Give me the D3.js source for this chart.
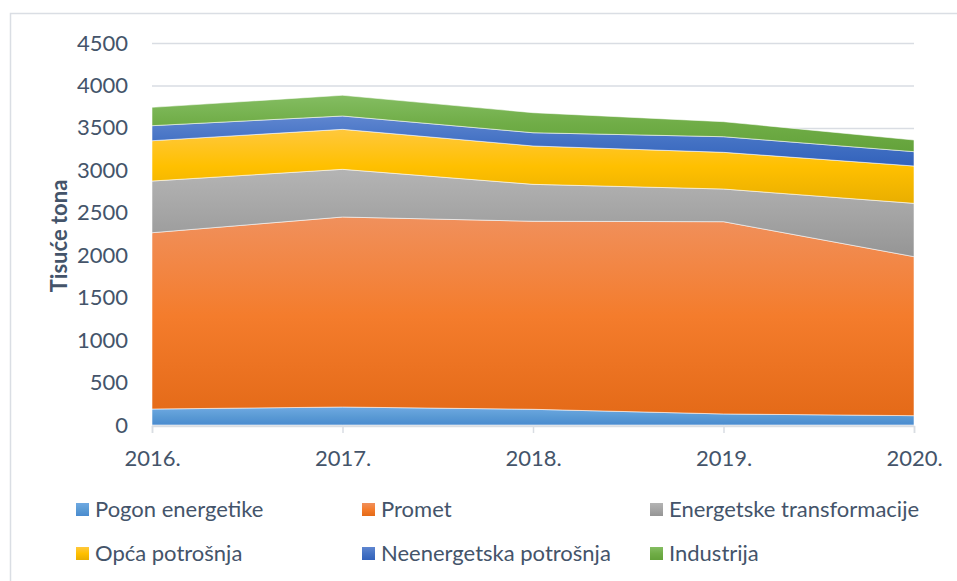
<!DOCTYPE html>
<html>
<head>
<meta charset="utf-8">
<script src="https://cdn.jsdelivr.net/npm/d3@7"></script>
<style>
  body { margin: 0; background: #fff; }
  svg text { font-family: Lato, "Open Sans", sans-serif; fill: #44546a; }
</style>
</head>
<body>
<div id="chart"></div>
<script>
// data (thousand tonnes)
var years = ["2016.", "2017.", "2018.", "2019.", "2020."];
var seriesNames = ["Pogon energetike", "Promet", "Energetske transformacije",
                   "Opća potrošnja", "Neenergetska potrošnja", "Industrija"];
var pogon      = [188, 212, 185, 130, 110];
var promet     = [2077, 2238, 2215, 2265, 1873];
var transf     = [609, 562, 435, 385, 628];
var opca       = [475, 471, 452, 432, 440];
var neenerg    = [177, 157, 156, 184, 169];
var industrija = [216, 244, 236, 177, 137];
var yTicks = [0, 500, 1000, 1500, 2000, 2500, 3000, 3500, 4000, 4500];

// light / base / dark per series (Excel-like gradient)
var colors = [
  ["#6fa9e2", "#5b9bd5", "#4a8bcf"],
  ["#f0905c", "#f47c2c", "#e46a18"],
  ["#b4b4b4", "#a5a5a5", "#959595"],
  ["#ffc83d", "#ffc000", "#e9ae00"],
  ["#5f86d0", "#4472c4", "#3262bb"],
  ["#84bd62", "#70ad47", "#63a23a"]
];

var values = [pogon, promet, transf, opca, neenerg, industrija];
var rows = years.map(function(y, i) {
  var r = { year: y };
  seriesNames.forEach(function(s, k) { r[s] = values[k][i]; });
  return r;
});

var W = 957, H = 581;
var margin = {top: 43, right: 43, bottom: 156, left: 152};
var width = W - margin.left - margin.right,
    height = H - margin.top - margin.bottom;

var svg = d3.select("#chart").append("svg")
  .attr("width", W)
  .attr("height", H);

// chart frame (runs off the canvas to the right and bottom)
svg.append("rect")
  .attr("x", 10.5).attr("y", 13.5)
  .attr("width", 960).attr("height", 600)
  .attr("fill", "none")
  .attr("stroke", "#dadee4")
  .attr("stroke-width", 1.5);

var defs = svg.append("defs");
colors.forEach(function(c, k) {
  var g = defs.append("linearGradient")
    .attr("id", "grad" + k)
    .attr("x1", 0).attr("y1", 0).attr("x2", 0).attr("y2", 1);
  g.append("stop").attr("offset", "0%").attr("stop-color", c[0]);
  g.append("stop").attr("offset", "50%").attr("stop-color", c[1]);
  g.append("stop").attr("offset", "100%").attr("stop-color", c[2]);
});

var plot = svg.append("g")
  .attr("transform", "translate(" + margin.left + "," + margin.top + ")");

var x = d3.scalePoint()
  .domain(years)
  .range([0, width]);

var y = d3.scaleLinear()
  .domain([0, 4500])
  .range([height, 0]);

// gridlines
plot.append("g")
  .attr("class", "grid")
  .call(d3.axisLeft(y).tickValues(yTicks).tickSize(-width).tickFormat(""))
  .call(function(g) {
    g.select(".domain").remove();
    g.selectAll("line").attr("stroke", "#d9dde3").attr("stroke-width", 1.5);
  });

var stack = d3.stack().keys(seriesNames);
var layers = stack(rows);

var area = d3.area()
  .x(function(d) { return x(d.data.year); })
  .y0(function(d) { return y(d[0]); })
  .y1(function(d) { return y(d[1]); });

plot.selectAll(".layer")
  .data(layers)
  .enter().append("path")
  .attr("class", "layer")
  .attr("d", area)
  .attr("fill", function(d, i) { return "url(#grad" + i + ")"; })
  .attr("stroke", "rgba(255,255,255,0.55)")
  .attr("stroke-width", 1);

// y axis labels
plot.append("g")
  .call(d3.axisLeft(y).tickValues(yTicks).tickFormat(d3.format("d")).tickSize(0).tickPadding(24))
  .call(function(g) {
    g.select(".domain").remove();
    g.selectAll("text").style("font-size", "22px");
  });

// x axis
plot.append("g")
  .attr("transform", "translate(0," + (height + 1) + ")")
  .call(d3.axisBottom(x).tickSize(7).tickPadding(17))
  .call(function(g) {
    g.select(".domain").attr("stroke", "#d9dde3").attr("stroke-width", 1.5);
    g.selectAll("line").attr("stroke", "#d9dde3").attr("stroke-width", 1.5);
    g.selectAll("text").style("font-size", "22px");
  });

// y axis title
svg.append("text")
  .attr("transform", "rotate(-90)")
  .attr("x", -236)
  .attr("y", 67)
  .attr("text-anchor", "middle")
  .style("font-size", "22px")
  .style("font-weight", "bold")
  .text("Tisuće tona");

// legend
var legendX = [76, 362, 650];
var legendY = [517, 561];
var legend = svg.selectAll(".legend")
  .data(seriesNames)
  .enter().append("g")
  .attr("class", "legend")
  .attr("transform", function(d, i) {
    return "translate(" + legendX[i % 3] + "," + legendY[Math.floor(i / 3)] + ")";
  });

legend.append("rect")
  .attr("x", 0).attr("y", -14)
  .attr("width", 13).attr("height", 13)
  .attr("fill", function(d, i) { return "url(#grad" + i + ")"; });

legend.append("text")
  .attr("x", 19)
  .attr("y", 0)
  .style("font-size", "22px")
  .text(function(d) { return d; });
</script>
</body>
</html>
